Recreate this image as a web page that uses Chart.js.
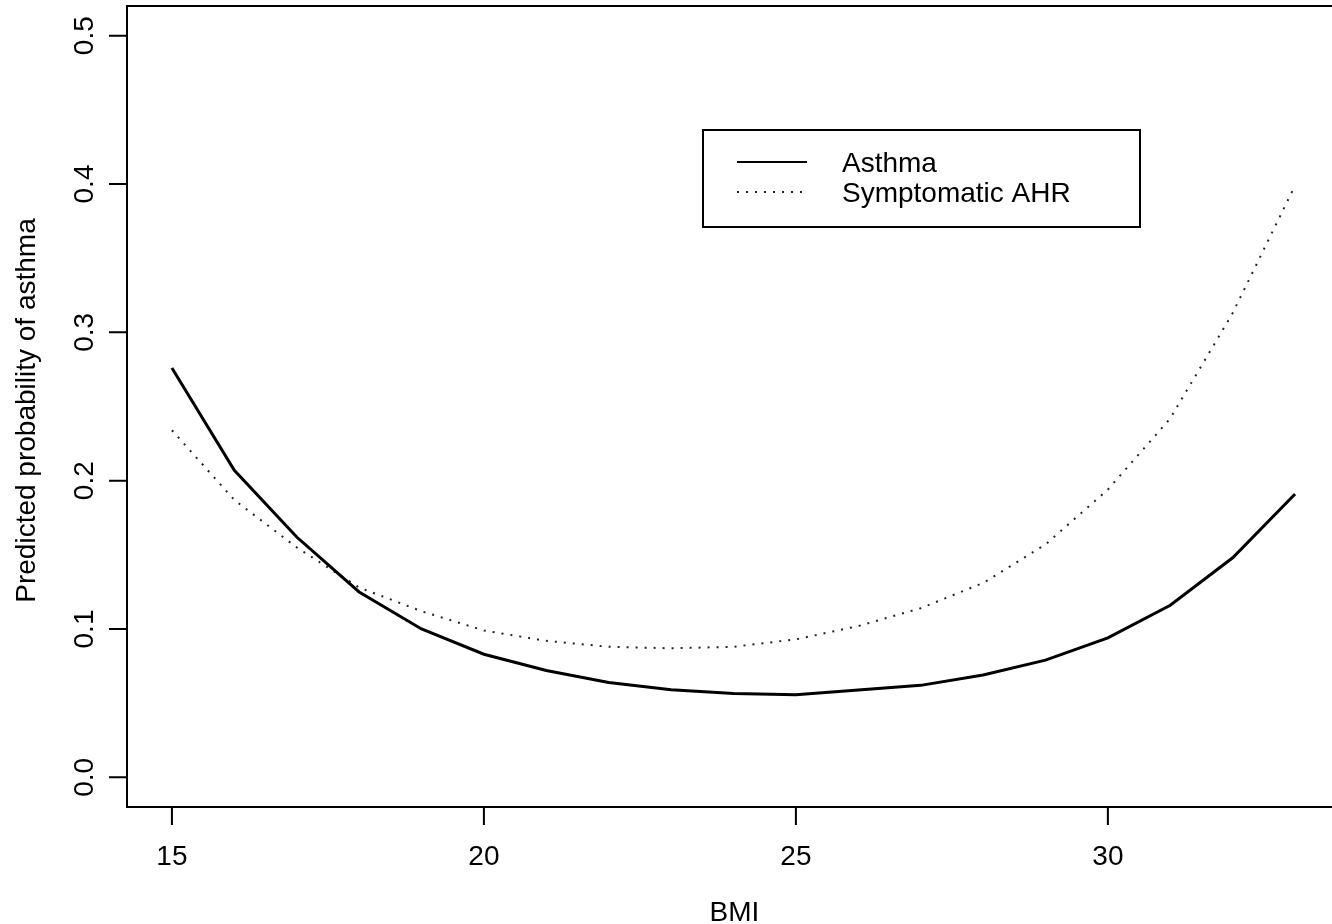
<!DOCTYPE html>
<html>
<head>
<meta charset="utf-8">
<title>Predicted probability of asthma by BMI</title>
<script src="https://cdn.jsdelivr.net/npm/chart.js@4.4.1/dist/chart.umd.min.js"></script>
<style>
  html, body { margin: 0; padding: 0; background: #fff; overflow: hidden; }
  canvas { display: block; }
</style>
</head>
<body>
<canvas id="bmiChart" width="1345" height="924"></canvas>
<script>
const bmi = [15, 16, 17, 18, 19, 20, 21, 22, 23, 24, 25, 26, 27, 28, 29, 30, 31, 32, 33];
const asthma = [0.276, 0.207, 0.162, 0.125, 0.100, 0.083, 0.072, 0.064, 0.059, 0.0565, 0.0557, 0.0588, 0.062, 0.069, 0.079, 0.094, 0.116, 0.148, 0.191];
const symptomaticAhr = [0.234, 0.187, 0.155, 0.128, 0.112, 0.099, 0.092, 0.088, 0.087, 0.088, 0.093, 0.102, 0.114, 0.131, 0.157, 0.194, 0.242, 0.313, 0.399];

const seriesLabels = ["Asthma", "Symptomatic AHR"];
const xTicks = [15, 20, 25, 30];
const yTicks = [0, 0.1, 0.2, 0.3, 0.4, 0.5];
const yTickLabels = ["0.0", "0.1", "0.2", "0.3", "0.4", "0.5"];
const xTitle = "BMI";
const yTitle = "Predicted probability of asthma";

const font = "28px 'Liberation Sans', Arial, sans-serif";

// base-graphics look: framed plot, outward ticks, rotated y labels, boxed legend
const rAxes = {
  id: "rAxes",
  afterDraw(chart) {
    const { ctx, chartArea: a, scales: { x, y } } = chart;
    ctx.save();
    ctx.strokeStyle = "#000";
    ctx.fillStyle = "#000";
    ctx.lineWidth = 2;
    ctx.setLineDash([]);
    ctx.strokeRect(a.left, a.top, a.right - a.left, a.bottom - a.top);

    ctx.beginPath();
    xTicks.forEach(v => {
      const px = x.getPixelForValue(v);
      ctx.moveTo(px, a.bottom);
      ctx.lineTo(px, a.bottom + 18);
    });
    yTicks.forEach(v => {
      const py = y.getPixelForValue(v);
      ctx.moveTo(a.left, py);
      ctx.lineTo(a.left - 18, py);
    });
    ctx.stroke();

    ctx.font = font;
    ctx.textAlign = "center";
    ctx.textBaseline = "alphabetic";
    xTicks.forEach(v => ctx.fillText(String(v), x.getPixelForValue(v), a.bottom + 58));
    ctx.fillText(xTitle, (x.getPixelForValue(15) + x.getPixelForValue(33)) / 2 + 1, a.bottom + 114);

    yTicks.forEach((v, i) => {
      ctx.save();
      ctx.translate(a.left - 34, y.getPixelForValue(v));
      ctx.rotate(-Math.PI / 2);
      ctx.fillText(yTickLabels[i], 0, 0);
      ctx.restore();
    });
    ctx.save();
    ctx.translate(a.left - 92, (a.top + a.bottom) / 2 + 4);
    ctx.rotate(-Math.PI / 2);
    ctx.fillText(yTitle, 0, 0);
    ctx.restore();

    // legend
    const lx = a.left + 576, ly = a.top + 124, lw = 437, lh = 97;
    ctx.lineWidth = 2;
    ctx.strokeRect(lx, ly, lw, lh);
    ctx.textAlign = "left";
    ctx.textBaseline = "middle";
    chart.data.datasets.forEach((ds, i) => {
      const rowY = ly + 32 + i * 30;
      ctx.save();
      ctx.strokeStyle = ds.borderColor;
      ctx.lineWidth = Math.min(ds.borderWidth, 2);
      ctx.setLineDash(ds.borderDash || []);
      ctx.beginPath();
      ctx.moveTo(lx + 34, rowY);
      ctx.lineTo(lx + 104, rowY);
      ctx.stroke();
      ctx.restore();
      ctx.fillText(ds.label, lx + 139, rowY + 2);
    });
    ctx.restore();
  }
};

const points = vals => bmi.map((b, i) => ({ x: b, y: vals[i] }));

new Chart(document.getElementById("bmiChart").getContext("2d"), {
  type: "line",
  data: {
    datasets: [{
      label: seriesLabels[0],
      data: points(asthma),
      borderColor: "#000",
      borderWidth: 3,
      pointRadius: 0,
      tension: 0,
      fill: false
    }, {
      label: seriesLabels[1],
      data: points(symptomaticAhr),
      borderColor: "#222",
      borderWidth: 2,
      borderDash: [2, 7],
      pointRadius: 0,
      tension: 0,
      fill: false
    }]
  },
  options: {
    responsive: false,
    animation: false,
    devicePixelRatio: 1,
    layout: { padding: { left: 127, top: 6, right: 5, bottom: 117 } },
    plugins: {
      legend: { display: false },
      tooltip: { enabled: false }
    },
    scales: {
      x: { type: "linear", min: 14.28, max: 33.72, display: false },
      y: { type: "linear", min: -0.02, max: 0.52, display: false }
    }
  },
  plugins: [rAxes]
});
</script>
</body>
</html>
